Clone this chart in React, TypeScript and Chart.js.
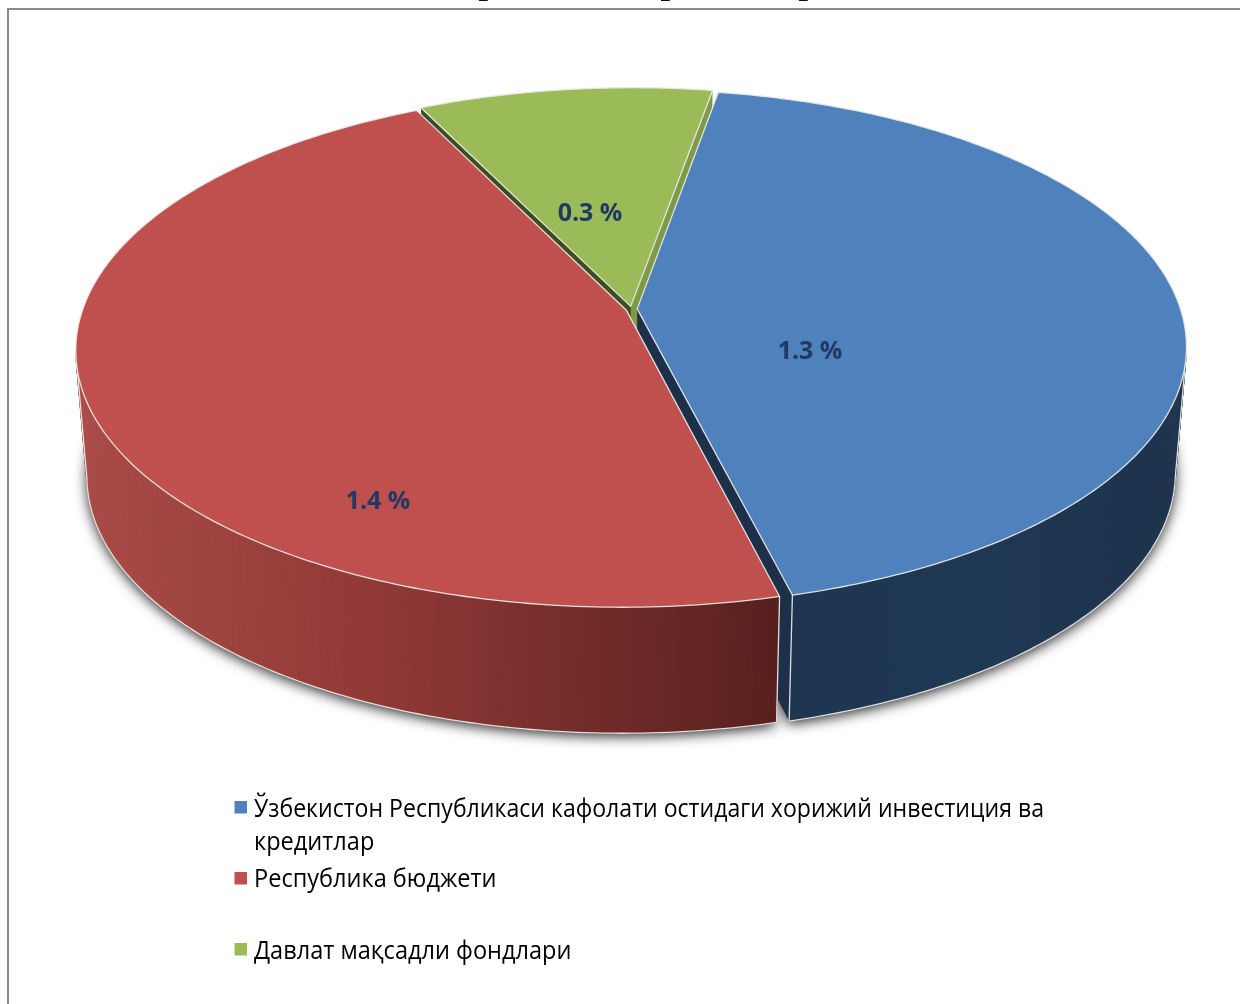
import React, { useEffect, useRef } from "react";
import { Chart, registerables } from "chart.js";

Chart.register(...registerables);

const categories = [
  "Ўзбекистон Республикаси кафолати остидаги хорижий инвестиция ва кредитлар",
  "Республика бюджети",
  "Давлат мақсадли фондлари",
];
const values = [1.3, 1.4, 0.3];
const valueLabels = ["1.3 %", "1.4 %", "0.3 %"];
const titleFragments = ["р", "р", "р"];

const topColors = ["#4F81BD", "#C0504D", "#9BBB59"];
const legendColors = ["#4F81BD", "#C0504D", "#9BBB59"];
const startCutColors = ["#1C3149", "#5A211E", "#3D4D20"];
const endCutColors = ["#1C3149", "#5A211E", "#7F9A47"];
const wallStops: [number, string][][] = [
  [[0, "#1E3650"], [0.5, "#1F3853"], [1, "#1E334C"]],
  [[0, "#AB4B47"], [0.45, "#8E3836"], [1, "#57201D"]],
  [[0, "#5F7435"], [1, "#5F7435"]],
];
const wallRanges = [[790, 1180], [80, 780], [420, 720]];

const LABEL_POS = [[810, 352], [378, 502], [590, 214]];
const LEGEND_ROWS = [809.5, 879.5, 951.5];
const LEGEND_SWATCH = [807, 878, 949];
const LEGEND_LINE = 33;
const LEGEND_FIT = [1, 1.02, 1.02];
const TITLE_X = [488, 670, 808];

// geometry of the tilted pie
const G = { cx: 631.5, cy: 309, A: 543.3, B: 252.3, k: 0.1504, shear: -2.5, depth: 126, baseScale: 0.98, explode: 0.0105 };
const FONT = '"Open Sans", "Noto Sans", sans-serif';

function project(u: number, v: number, base: boolean) {
  const w = 1 - G.k * v;
  const s = base ? G.baseScale : 1;
  return { x: G.cx + (G.A * s * u + G.shear * v) / w, y: G.cy + (G.B * v) / w + (base ? G.depth : 0) };
}

function rim(s: number, e: number, ox: number, oy: number, base: boolean) {
  const pts: { x: number; y: number }[] = [];
  const n = 200;
  for (let i = 0; i <= n; i++) {
    const a = s + ((e - s) * i) / n;
    pts.push(project(Math.cos(a) + ox, Math.sin(a) + oy, base));
  }
  return pts;
}

function poly(ctx: CanvasRenderingContext2D, pts: { x: number; y: number }[], close = true) {
  ctx.beginPath();
  pts.forEach((p, i) => (i ? ctx.lineTo(p.x, p.y) : ctx.moveTo(p.x, p.y)));
  if (close) ctx.closePath();
}

const piePlugin = {
  id: "tiltedPie",
  beforeDraw(chart: any) {
    const ctx: CanvasRenderingContext2D = chart.ctx;
    ctx.save();
    ctx.fillStyle = "#ffffff";
    ctx.fillRect(0, 0, chart.width, chart.height);
    ctx.fillStyle = "#8a8a8a";
    ctx.fillRect(7, 8, chart.width - 7, 2);
    ctx.fillRect(7, 8, 2, chart.height - 8);
    ctx.fillStyle = "#111111";
    ctx.font = 'bold 34px "Liberation Serif", serif';
    ctx.textAlign = "center";
    ctx.textBaseline = "alphabetic";
    titleFragments.forEach((t, i) => ctx.fillText(t, TITLE_X[i], -6));
    ctx.restore();
  },
  beforeDatasetDraw(chart: any) {
    const ctx: CanvasRenderingContext2D = chart.ctx;
    const arcs = chart.getDatasetMeta(0).data.map((el: any, i: number) => {
      const s = el.startAngle;
      const e = el.endAngle;
      const m = (s + e) / 2;
      return { i, s, e, ox: G.explode * Math.cos(m), oy: G.explode * Math.sin(m) };
    });
    const order = [...arcs].sort((a: any, b: any) => a.oy - b.oy);

    ctx.save();
    // ground shadow only: the shape itself is drawn off the canvas
    ctx.save();
    ctx.shadowColor = "rgba(0,0,0,0.85)";
    ctx.shadowBlur = 13;
    ctx.shadowOffsetX = 3000;
    ctx.shadowOffsetY = 3;
    ctx.fillStyle = "#000000";
    ctx.beginPath();
    for (const a of arcs) {
      const pts = [project(a.ox, a.oy, true), ...rim(a.s, a.e, a.ox, a.oy, true)];
      pts.forEach((p, i) => (i ? ctx.lineTo(p.x - 3000, p.y) : ctx.moveTo(p.x - 3000, p.y)));
      ctx.closePath();
    }
    ctx.fill();
    ctx.restore();

    const edge = "rgba(232,232,232,0.95)";
    ctx.lineJoin = "round";
    for (const a of order) {
      const apexT = project(a.ox, a.oy, false);
      const apexB = project(a.ox, a.oy, true);
      const topRim = rim(a.s, a.e, a.ox, a.oy, false);
      const botRim = rim(a.s, a.e, a.ox, a.oy, true);
      const n = topRim.length - 1;

      // cut faces that look towards the viewer
      if (Math.cos(a.s) < 0) {
        poly(ctx, [apexT, topRim[0], botRim[0], apexB]);
        ctx.fillStyle = startCutColors[a.i];
        ctx.fill();
      }
      if (Math.cos(a.e) > 0) {
        poly(ctx, [apexT, topRim[n], botRim[n], apexB]);
        ctx.fillStyle = endCutColors[a.i];
        ctx.fill();
      }
      // outer wall, quad by quad, only on the side that can be seen
      const [x0, x1] = wallRanges[a.i];
      const g = ctx.createLinearGradient(x0, 0, x1, 0);
      wallStops[a.i].forEach(([p, c]) => g.addColorStop(p, c));
      ctx.fillStyle = g;
      ctx.strokeStyle = g;
      ctx.lineWidth = 0.8;
      const visible = (idx: number) => Math.sin(a.s + ((a.e - a.s) * idx) / n) > G.k;
      for (let j = 0; j < n; j++) {
        if (!visible(j) || !visible(j + 1)) continue;
        poly(ctx, [topRim[j], topRim[j + 1], botRim[j + 1], botRim[j]]);
        ctx.fill();
        ctx.stroke();
      }
      // silhouette and edges of the wall
      ctx.strokeStyle = edge;
      ctx.lineWidth = 1.3;
      let first = -1;
      let last = -1;
      for (let j = 0; j <= n; j++) {
        if (visible(j)) {
          if (first < 0) first = j;
          last = j;
        }
      }
      if (first >= 0) {
        poly(ctx, botRim.slice(first, last + 1), false);
        ctx.stroke();
        poly(ctx, [topRim[first], botRim[first]], false);
        ctx.stroke();
        poly(ctx, [topRim[last], botRim[last]], false);
        ctx.stroke();
      }
    }
    // top faces
    for (const a of order) {
      const apexT = project(a.ox, a.oy, false);
      const topRim = rim(a.s, a.e, a.ox, a.oy, false);
      poly(ctx, [apexT, ...topRim]);
      ctx.fillStyle = topColors[a.i];
      ctx.fill();
      ctx.strokeStyle = edge;
      ctx.lineWidth = 1.3;
      ctx.stroke();
    }
    // value labels
    ctx.fillStyle = "#1F3864";
    ctx.font = `bold 25px ${FONT}`;
    ctx.textAlign = "center";
    ctx.textBaseline = "middle";
    valueLabels.forEach((t, i) => ctx.fillText(t, LABEL_POS[i][0], LABEL_POS[i][1]));
    // legend
    ctx.textAlign = "left";
    ctx.font = `25px ${FONT}`;
    const raw = ctx.measureText(categories[0].replace(/ кредитлар$/, "")).width;
    const sx = 790 / raw;
    categories.forEach((name, i) => {
      ctx.fillStyle = legendColors[i];
      ctx.fillRect(234.5, LEGEND_SWATCH[i] - 6, 12.5, 12.5);
      const lines: string[] = [];
      let line = "";
      name.split(" ").forEach((word) => {
        const next = line ? `${line} ${word}` : word;
        if (ctx.measureText(next).width * sx > 800) {
          lines.push(line);
          line = word;
        } else line = next;
      });
      lines.push(line);
      ctx.fillStyle = "#000000";
      lines.forEach((l, j) => {
        ctx.save();
        ctx.translate(254, LEGEND_ROWS[i] + j * LEGEND_LINE);
        ctx.scale(sx * (j > 0 ? 1.02 : LEGEND_FIT[i]), 1);
        ctx.fillText(l, 0, 0);
        ctx.restore();
      });
    });
    ctx.restore();
    return false;
  },
};

export default function App() {
  const ref = useRef<HTMLCanvasElement>(null);
  useEffect(() => {
    const chart = new Chart(ref.current as HTMLCanvasElement, {
      type: "pie",
      data: {
        labels: categories,
        datasets: [{ data: values, backgroundColor: topColors }],
      },
      options: {
        animation: false,
        responsive: false,
        rotation: 9.7,
        plugins: { legend: { display: false }, tooltip: { enabled: false }, title: { display: false } },
      },
      plugins: [piePlugin],
    } as any);
    return () => chart.destroy();
  }, []);
  return (
    <div style={{ position: "absolute", left: 0, top: 0, width: 1240, height: 1004 }}>
      <canvas ref={ref} width={1240} height={1004} style={{ display: "block", width: 1240, height: 1004 }} />
    </div>
  );
}
